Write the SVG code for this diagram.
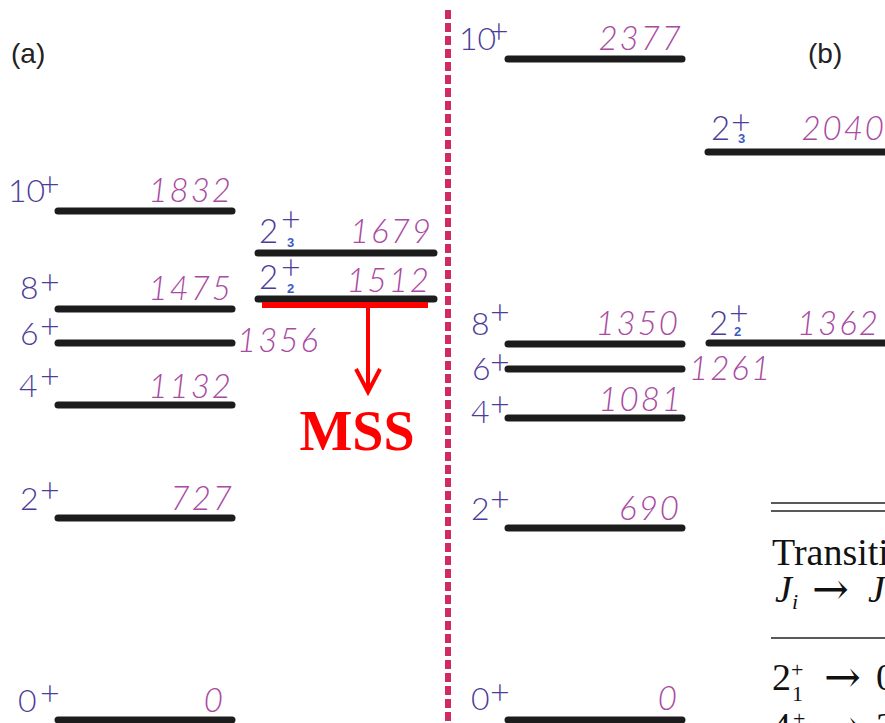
<svg xmlns="http://www.w3.org/2000/svg" width="885" height="723" viewBox="0 0 885 723">
<defs>
<style>
.lvl{stroke:#1c1c1c;stroke-width:7;stroke-linecap:round;fill:none}
.spin{font-family:Lato,"Open Sans","Liberation Sans",sans-serif;font-weight:300;font-size:32px;fill:#4d3d99}
.two{font-size:33px}
.plus{font-family:Lato,"Open Sans","Liberation Sans",sans-serif;font-weight:300;font-size:34px;fill:#4d3d99}
.sub{font-family:"Liberation Sans",sans-serif;font-weight:bold;font-size:13px;fill:#3b5cc0}
.en{font-family:Lato,"Open Sans","Liberation Sans",sans-serif;font-weight:300;font-style:italic;font-size:33px;letter-spacing:2px;fill:#aa4aa2}
.tag{font-family:"Liberation Sans",Arial,sans-serif;font-size:28px;fill:#222}
.tab{font-family:"Liberation Serif","Times New Roman",serif;font-size:38px;fill:#111}
.arr{font-family:"DejaVu Serif",serif;font-size:44px;font-style:normal}
</style>
</defs>
<rect width="885" height="723" fill="#fff"/>
<line x1="448" y1="10" x2="448" y2="723" stroke="#d02a66" stroke-width="6" stroke-dasharray="9 4"/>
<text class="tag" x="11" y="63">(a)</text>
<text class="tag" x="808" y="63">(b)</text>
<g id="a-0"><line class="lvl" x1="58" y1="720" x2="232" y2="720"/><text class="spin" x="18" y="712">0</text><text class="plus" x="40" y="705">+</text><text class="en" x="225" y="712" text-anchor="end">0</text></g>
<g id="a-2"><line class="lvl" x1="58" y1="518" x2="232" y2="518"/><text class="spin" x="20" y="510">2</text><text class="plus" x="40" y="502">+</text><text class="en" x="234" y="510" text-anchor="end">727</text></g>
<g id="a-4"><line class="lvl" x1="58" y1="405" x2="232" y2="405"/><text class="spin" x="19" y="397">4</text><text class="plus" x="40" y="388">+</text><text class="en" x="233" y="398" text-anchor="end">1132</text></g>
<g id="a-6"><line class="lvl" x1="58" y1="343" x2="232" y2="343"/><text class="spin" x="20" y="345">6</text><text class="plus" x="40" y="338">+</text><text class="en" x="237" y="352">1356</text></g>
<g id="a-8"><line class="lvl" x1="58" y1="309" x2="232" y2="309"/><text class="spin" x="20" y="299">8</text><text class="plus" x="40" y="294">+</text><text class="en" x="233" y="300" text-anchor="end">1475</text></g>
<g id="a-10"><line class="lvl" x1="58" y1="211" x2="232" y2="211"/><text class="spin" x="8" y="202">10</text><text class="plus" x="40" y="196">+</text><text class="en" x="233" y="202" text-anchor="end">1832</text></g>
<g id="a-22"><line class="lvl" x1="258" y1="299" x2="434" y2="299"/><text class="spin two" x="259" y="289">2</text><text class="plus" x="281" y="279">+</text><text class="sub" x="287" y="293">2</text><text class="en" x="431" y="292" text-anchor="end">1512</text></g>
<g id="a-23"><line class="lvl" x1="258" y1="253" x2="434" y2="253"/><text class="spin two" x="259" y="243">2</text><text class="plus" x="281" y="231">+</text><text class="sub" x="287" y="247">3</text><text class="en" x="433" y="243" text-anchor="end">1679</text></g>
<g id="b-0"><line class="lvl" x1="508" y1="720" x2="682" y2="720"/><text class="spin" x="471" y="710">0</text><text class="plus" x="490" y="704">+</text><text class="en" x="679" y="710" text-anchor="end">0</text></g>
<g id="b-2"><line class="lvl" x1="508" y1="528" x2="682" y2="528"/><text class="spin" x="471" y="520">2</text><text class="plus" x="490" y="511">+</text><text class="en" x="681" y="520" text-anchor="end">690</text></g>
<g id="b-4"><line class="lvl" x1="508" y1="418" x2="682" y2="418"/><text class="spin" x="471" y="423">4</text><text class="plus" x="490" y="416">+</text><text class="en" x="683" y="411" text-anchor="end">1081</text></g>
<g id="b-6"><line class="lvl" x1="508" y1="369" x2="682" y2="369"/><text class="spin" x="472" y="380">6</text><text class="plus" x="490" y="374">+</text><text class="en" x="689" y="380">1261</text></g>
<g id="b-8"><line class="lvl" x1="508" y1="344" x2="682" y2="344"/><text class="spin" x="471" y="335">8</text><text class="plus" x="490" y="324">+</text><text class="en" x="680" y="335" text-anchor="end">1350</text></g>
<g id="b-10"><line class="lvl" x1="508" y1="59" x2="682" y2="59"/><text class="spin" x="459" y="50">10</text><text class="plus" x="489" y="43">+</text><text class="en" x="683" y="50" text-anchor="end">2377</text></g>
<g id="b-22"><line class="lvl" x1="709" y1="343" x2="892" y2="343"/><text class="spin two" x="709" y="335">2</text><text class="plus" x="729" y="325">+</text><text class="sub" x="734" y="336">2</text><text class="en" x="880" y="335" text-anchor="end">1362</text></g>
<g id="b-23"><line class="lvl" x1="708" y1="152" x2="892" y2="152"/><text class="spin two" x="711" y="140">2</text><text class="plus" x="731" y="134">+</text><text class="sub" x="738" y="143">3</text><text class="en" x="886" y="140" text-anchor="end">2040</text></g>
<g id="connectors">
<line x1="262" y1="305" x2="428" y2="305" stroke="#ff0000" stroke-width="6"/>
<line x1="368" y1="305" x2="368" y2="392" stroke="#ff0000" stroke-width="4"/>
<polyline points="356,369 368,392 380,369" fill="none" stroke="#ff0000" stroke-width="4" stroke-linejoin="miter"/>
</g>
<g id="mss"><text x="357" y="450" text-anchor="middle" style="font-family:'Liberation Serif','Times New Roman',serif;font-weight:bold;font-size:56px;fill:#ff0000">MSS</text></g>
<g id="table">
<line x1="771" y1="503" x2="885" y2="503" stroke="#222" stroke-width="1.6"/>
<line x1="771" y1="511" x2="885" y2="511" stroke="#222" stroke-width="1.6"/>
<text class="tab" x="772" y="565">Transiti</text>
<text class="tab" x="775" y="602" font-style="italic">J<tspan font-size="22" dy="7">i</tspan><tspan class="arr" x="812" y="604">→</tspan><tspan x="868" y="602">J</tspan></text>
<line x1="771" y1="638" x2="885" y2="638" stroke="#222" stroke-width="1.6"/>
<text class="tab" x="772" y="690">2<tspan font-size="22" x="791" y="677">+</tspan><tspan font-size="22" x="792" y="701">1</tspan><tspan class="arr" x="824" y="692">→</tspan><tspan x="876" y="690">0</tspan></text>
<text class="tab" x="772" y="739">4<tspan font-size="22" x="793" y="726">+</tspan><tspan class="arr" x="824" y="741">→</tspan><tspan x="876" y="739">2</tspan></text>
</g>
</svg>
